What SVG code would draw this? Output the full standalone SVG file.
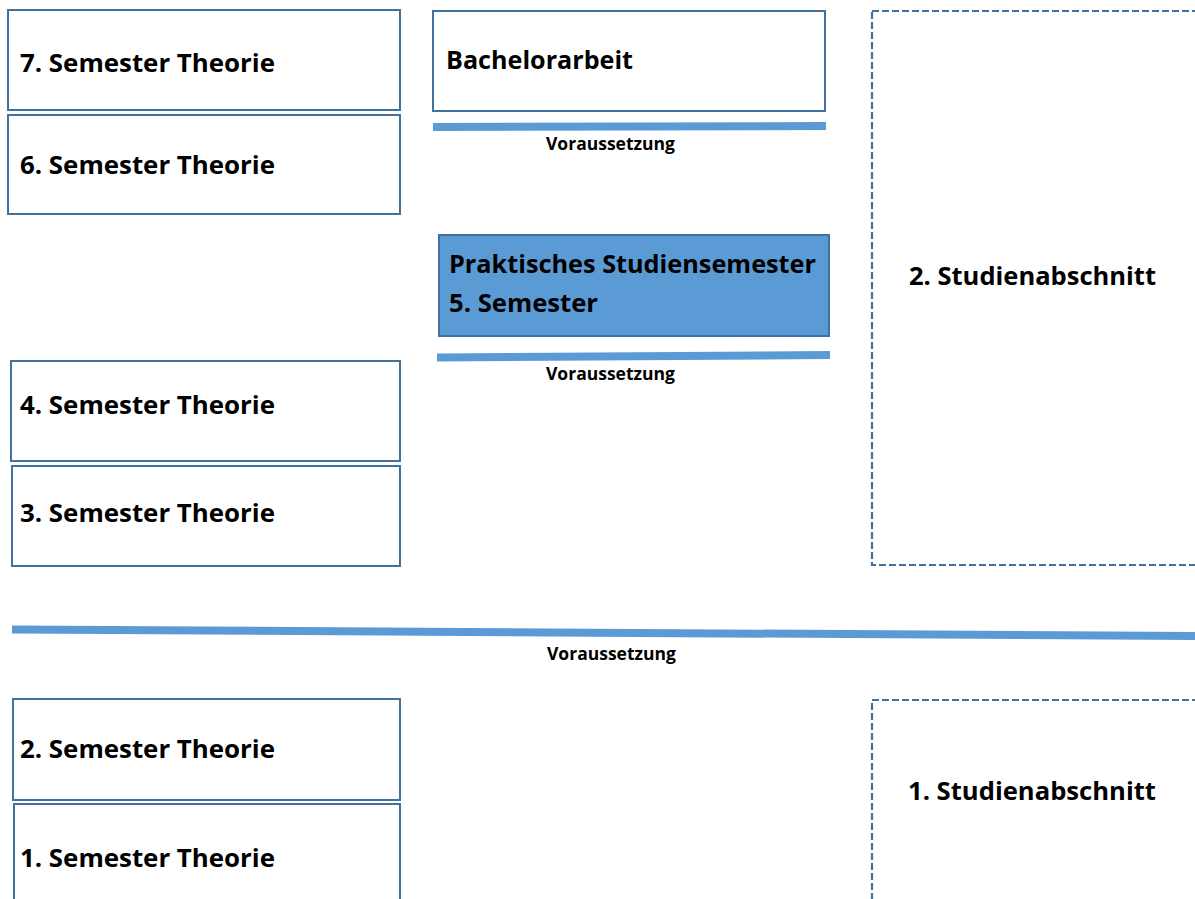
<svg xmlns="http://www.w3.org/2000/svg" width="1195" height="899" viewBox="0 0 1195 899">
<style>
.box{fill:#ffffff;stroke:#41719c;stroke-width:2}
.prak{fill:#5b9bd5;stroke:#41719c;stroke-width:2}
.dash{fill:none;stroke:#41719c;stroke-width:2.2;stroke-dasharray:7 3}
.bar{stroke:#5b9bd5;stroke-width:8;fill:none}
.t{font-family:"Open Sans","Noto Sans","Liberation Sans",sans-serif;font-weight:bold;font-size:25px;fill:#000}
.s{font-family:"Open Sans","Noto Sans","Liberation Sans",sans-serif;font-weight:bold;font-size:17.5px;fill:#000}
</style>
<rect width="1195" height="899" fill="#ffffff"/>
<g id="sem7"><rect class="box" x="8" y="10" width="392" height="100"/><text class="t" x="20" y="72" textLength="255" lengthAdjust="spacingAndGlyphs">7. Semester Theorie</text></g>
<g id="sem6"><rect class="box" x="8" y="115" width="392" height="99"/><text class="t" x="20" y="174" textLength="255" lengthAdjust="spacingAndGlyphs">6. Semester Theorie</text></g>
<g id="bachelor"><rect class="box" x="433" y="11" width="392" height="100"/><text class="t" x="446" y="69" textLength="187" lengthAdjust="spacingAndGlyphs">Bachelorarbeit</text></g>
<g id="praktisch"><rect class="prak" x="439" y="235" width="390" height="101"/><text class="t" x="449" y="273" textLength="367" lengthAdjust="spacingAndGlyphs">Praktisches Studiensemester</text><text class="t" x="449" y="312" textLength="149" lengthAdjust="spacingAndGlyphs">5. Semester</text></g>
<g id="abschnitt2"><rect class="dash" x="872" y="11" width="340" height="554"/><text class="t" x="909" y="285" textLength="247" lengthAdjust="spacingAndGlyphs">2. Studienabschnitt</text></g>
<g id="sem4"><rect class="box" x="11" y="361" width="389" height="100"/><text class="t" x="20" y="414" textLength="255" lengthAdjust="spacingAndGlyphs">4. Semester Theorie</text></g>
<g id="sem3"><rect class="box" x="12" y="466" width="388" height="100"/><text class="t" x="20" y="522" textLength="255" lengthAdjust="spacingAndGlyphs">3. Semester Theorie</text></g>
<g id="sem2"><rect class="box" x="13" y="699" width="387" height="101"/><text class="t" x="20" y="758" textLength="255" lengthAdjust="spacingAndGlyphs">2. Semester Theorie</text></g>
<g id="sem1"><rect class="box" x="14" y="804" width="386" height="110"/><text class="t" x="20" y="867" textLength="255" lengthAdjust="spacingAndGlyphs">1. Semester Theorie</text></g>
<g id="abschnitt1"><rect class="dash" x="872" y="700" width="340" height="220"/><text class="t" x="908" y="800" textLength="248" lengthAdjust="spacingAndGlyphs">1. Studienabschnitt</text></g>
<g id="connectors">
<line class="bar" x1="433" y1="127" x2="826" y2="126"/>
<text class="s" x="546" y="150" textLength="129" lengthAdjust="spacingAndGlyphs">Voraussetzung</text>
<line class="bar" x1="437" y1="357.5" x2="830" y2="355"/>
<text class="s" x="546" y="380" textLength="129" lengthAdjust="spacingAndGlyphs">Voraussetzung</text>
<line class="bar" x1="12" y1="629.5" x2="1195" y2="636"/>
<text class="s" x="547" y="660" textLength="129" lengthAdjust="spacingAndGlyphs">Voraussetzung</text>
</g>
</svg>
